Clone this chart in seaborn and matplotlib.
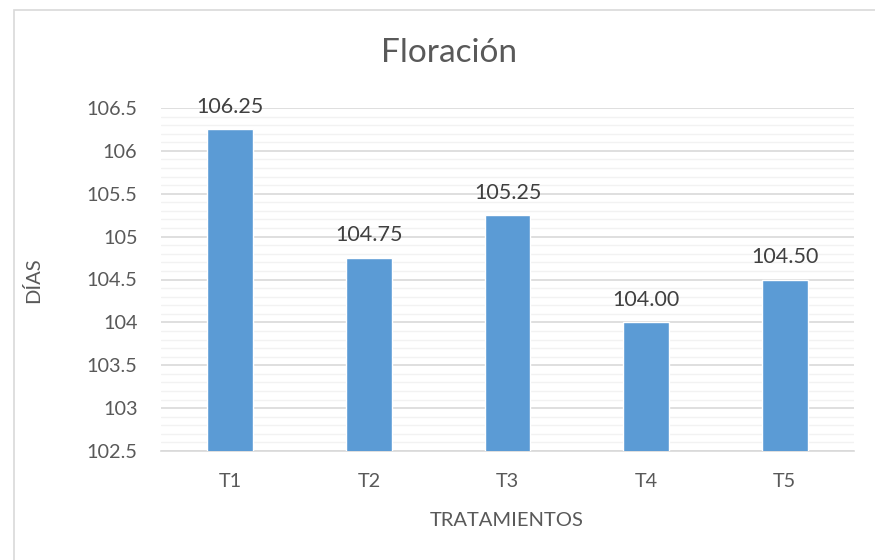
import matplotlib
matplotlib.use("Agg")
import matplotlib.pyplot as plt
import seaborn as sns
import pandas as pd
from matplotlib.patches import Rectangle
from matplotlib.ticker import MultipleLocator

categories = ["T1", "T2", "T3", "T4", "T5"]
values = [106.25, 104.75, 105.25, 104.00, 104.50]

sns.set_theme(style="white")
plt.rcParams['font.family'] = ['Lato', 'DejaVu Sans']

df = pd.DataFrame({"Tratamiento": categories, "Dias": values})

fig = plt.figure(figsize=(8.75, 5.6), dpi=100)
W, H = 875, 560
ax = fig.add_axes([161 / W, 1 - 451 / H, (854 - 161) / W, (451 - 108) / H])

sns.barplot(data=df, x="Tratamiento", y="Dias", color="#5B9BD5", width=0.33,
            saturation=1, ax=ax, zorder=3)

ax.set_ylim(102.5, 106.5)
ax.yaxis.set_major_locator(MultipleLocator(0.5))
ax.yaxis.set_minor_locator(MultipleLocator(0.1))
ax.grid(which="major", axis="y", color="#D9D9D9", linewidth=1.2, zorder=0)
ax.grid(which="minor", axis="y", color="#F2F2F2", linewidth=1.0, zorder=0)
ax.set_axisbelow(True)
for s in ["top", "right", "left"]:
    ax.spines[s].set_visible(False)
ax.spines["bottom"].set_color("#D9D9D9")
ax.spines["bottom"].set_linewidth(1.2)

ax.set_yticks([102.5 + 0.5 * i for i in range(9)])
ax.set_yticklabels(["102.5", "103", "103.5", "104", "104.5", "105", "105.5", "106", "106.5"])
ax.tick_params(axis="both", which="both", length=0, labelsize=14.3, colors="#595959")
ax.tick_params(axis="y", pad=17)
ax.tick_params(axis="x", pad=16)

ax.set_xlabel("")
ax.set_ylabel("")
fig.text(507 / W, 1 - 520 / H, "TRATAMIENTOS", ha="center", va="center",
         fontsize=14.5, color="#595959")
fig.text(33 / W, 1 - 280 / H, "DÍAS", ha="center", va="center", rotation=90,
         fontsize=14.5, color="#595959")

for i, v in enumerate(values):
    ax.annotate(f"{v:.2f}", (i, v), xytext=(0, 12), textcoords="offset points",
                ha="center", va="baseline", fontsize=15.5, color="#404040")

fig.text(449 / W, 1 - 53 / H, "Floración", ha="center", va="center",
         fontsize=24, color="#595959")

fig.patches.append(Rectangle((14 / W, -0.1), 1.1, 1 - 10 / H + 0.1,
                             transform=fig.transFigure, fill=False,
                             edgecolor="#D9D9D9", linewidth=1.2))

fig.savefig("out.png", dpi=100)
